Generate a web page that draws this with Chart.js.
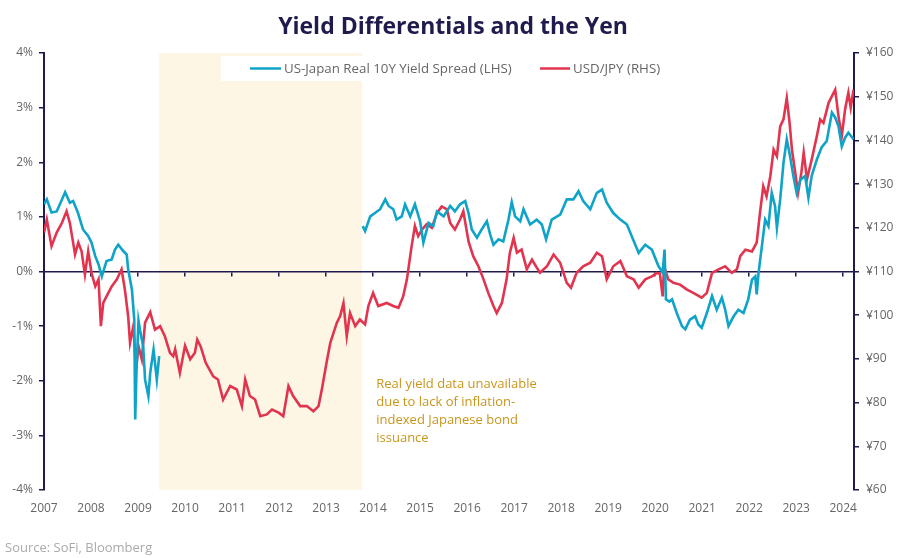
<!DOCTYPE html>
<html>
<head>
<meta charset="utf-8">
<script src="https://cdn.jsdelivr.net/npm/chart.js@4.4.1/dist/chart.umd.min.js"></script>
<style>
  html, body { margin: 0; padding: 0; background: #ffffff; }
  #wrap { position: relative; width: 906px; height: 558px; }
</style>
</head>
<body>
<div id="wrap"><canvas id="chart" width="906" height="558"></canvas></div>
<script>
const yearTicks = [2007, 2008, 2009, 2010, 2011, 2012, 2013, 2014, 2015, 2016, 2017, 2018, 2019, 2020, 2021, 2022, 2023, 2024];
const pctTicks = [-4, -3, -2, -1, 0, 1, 2, 3, 4];
const yenTicks = [60, 70, 80, 90, 100, 110, 120, 130, 140, 150, 160];

// US-Japan real 10Y spread (%), null = no data
const spreadDates = [
  2007.00, 2007.06, 2007.16, 2007.27, 2007.45, 2007.55, 2007.62, 2007.72, 2007.83, 2007.94,
  2008.01, 2008.09, 2008.16, 2008.23, 2008.33, 2008.44, 2008.51, 2008.58, 2008.69, 2008.76,
  2008.79, 2008.87, 2008.92, 2008.94, 2008.97, 2009.01, 2009.04, 2009.11, 2009.15, 2009.22,
  2009.26, 2009.33, 2009.40, 2009.45,
  2011.50,
  2013.78, 2013.83, 2013.94, 2014.04, 2014.15, 2014.26, 2014.33, 2014.43, 2014.50, 2014.61,
  2014.68, 2014.79, 2014.89, 2015.00, 2015.07, 2015.18, 2015.28, 2015.36, 2015.50, 2015.64,
  2015.74, 2015.85, 2015.96, 2016.03, 2016.10, 2016.21, 2016.31, 2016.42, 2016.49, 2016.56,
  2016.67, 2016.77, 2016.88, 2016.95, 2017.02, 2017.13, 2017.20, 2017.34, 2017.48, 2017.59,
  2017.68, 2017.80, 2017.98, 2018.12, 2018.26, 2018.37, 2018.47, 2018.62, 2018.76, 2018.87,
  2018.97, 2019.11, 2019.26, 2019.40, 2019.50, 2019.65, 2019.79, 2019.93, 2020.07, 2020.16,
  2020.20, 2020.23, 2020.30, 2020.36, 2020.46, 2020.57, 2020.64, 2020.74, 2020.85, 2020.92,
  2020.99, 2021.10, 2021.21, 2021.31, 2021.42, 2021.49, 2021.56, 2021.67, 2021.77, 2021.88,
  2021.98, 2022.06, 2022.13, 2022.16, 2022.20, 2022.27, 2022.34, 2022.41, 2022.48, 2022.55,
  2022.59, 2022.66, 2022.73, 2022.80, 2022.87, 2022.94, 2023.01, 2023.09, 2023.19, 2023.26,
  2023.33, 2023.44, 2023.54, 2023.65, 2023.76, 2023.83, 2023.90, 2023.97, 2024.04, 2024.11,
  2024.22
];
const spreadValues = [
  1.23, 1.32, 1.08, 1.10, 1.45, 1.26, 1.29, 1.08, 0.77, 0.65,
  0.53, 0.28, 0.13, -0.09, 0.19, 0.22, 0.40, 0.49, 0.37, 0.31,
  0.04, -0.33, -0.88, -2.71, -1.73, -0.90, -1.06, -1.37, -1.98, -2.28,
  -1.85, -1.43, -1.98, -1.55,
  null,
  0.83, 0.74, 1.01, 1.07, 1.14, 1.32, 1.20, 1.14, 0.95, 1.01,
  1.23, 1.01, 1.23, 0.92, 0.53, 0.89, 0.83, 1.10, 1.01, 1.20,
  1.10, 1.23, 1.29, 1.07, 0.77, 0.62, 0.77, 0.92, 0.68, 0.49,
  0.59, 0.55, 0.95, 1.27, 1.01, 0.92, 1.14, 0.86, 0.95, 0.86,
  0.59, 0.95, 1.04, 1.32, 1.32, 1.47, 1.29, 1.14, 1.44, 1.50,
  1.26, 1.07, 0.95, 0.86, 0.65, 0.34, 0.49, 0.40, 0.10, -0.02,
  0.40, -0.51, -0.55, -0.51, -0.76, -1.00, -1.06, -0.88, -0.82, -0.97,
  -1.03, -0.76, -0.45, -0.70, -0.48, -0.70, -1.00, -0.82, -0.70, -0.76,
  -0.51, -0.15, -0.09, -0.42, -0.02, 0.46, 0.95, 0.83, 1.44, 1.20,
  0.80, 1.32, 1.99, 2.42, 2.11, 1.75, 1.44, 1.68, 1.75, 1.35,
  1.75, 2.05, 2.27, 2.39, 2.91, 2.82, 2.66, 2.29, 2.45, 2.54,
  2.42
];

// USD/JPY (yen per dollar)
const fxDates = [
  2007.00, 2007.06, 2007.16, 2007.27, 2007.38, 2007.48, 2007.55, 2007.62, 2007.66, 2007.73,
  2007.80, 2007.87, 2007.94, 2008.01, 2008.09, 2008.16, 2008.21, 2008.26, 2008.33, 2008.44,
  2008.55, 2008.65, 2008.72, 2008.79, 2008.83, 2008.90, 2008.96, 2009.01, 2009.08, 2009.15,
  2009.26, 2009.36, 2009.47, 2009.57, 2009.68, 2009.75, 2009.79, 2009.89, 2010.00, 2010.11,
  2010.21, 2010.26, 2010.33, 2010.44, 2010.60, 2010.70, 2010.81, 2010.96, 2011.10, 2011.21,
  2011.28, 2011.38, 2011.49, 2011.60, 2011.74, 2011.85, 2011.99, 2012.09, 2012.20, 2012.30,
  2012.45, 2012.59, 2012.73, 2012.84, 2012.91, 2013.01, 2013.09, 2013.16, 2013.23, 2013.30,
  2013.37, 2013.44, 2013.51, 2013.62, 2013.72, 2013.83, 2013.90, 2014.00, 2014.11, 2014.29,
  2014.43, 2014.54, 2014.64, 2014.72, 2014.82, 2014.89, 2014.96, 2015.04, 2015.14, 2015.25,
  2015.36, 2015.46, 2015.57, 2015.64, 2015.74, 2015.85, 2015.92, 2016.03, 2016.13, 2016.24,
  2016.35, 2016.45, 2016.56, 2016.63, 2016.74, 2016.84, 2016.91, 2016.99, 2017.06, 2017.16,
  2017.27, 2017.38, 2017.55, 2017.70, 2017.84, 2017.98, 2018.12, 2018.21, 2018.33, 2018.47,
  2018.62, 2018.76, 2018.87, 2018.97, 2019.11, 2019.26, 2019.40, 2019.54, 2019.65, 2019.79,
  2019.93, 2020.04, 2020.10, 2020.16, 2020.19, 2020.28, 2020.39, 2020.53, 2020.67, 2020.81,
  2020.99, 2021.10, 2021.21, 2021.35, 2021.49, 2021.63, 2021.74, 2021.81, 2021.92, 2022.06,
  2022.16, 2022.23, 2022.30, 2022.37, 2022.45, 2022.52, 2022.59, 2022.66, 2022.73, 2022.80,
  2022.86, 2022.91, 2022.98, 2023.04, 2023.11, 2023.16, 2023.23, 2023.33, 2023.44, 2023.51,
  2023.58, 2023.69, 2023.83, 2023.90, 2023.97, 2024.04, 2024.11, 2024.16, 2024.22
];
const fxValues = [
  118.9, 121.9, 115.8, 118.9, 121.1, 123.8, 121.1, 116.6, 113.9, 116.6,
  114.6, 109.3, 114.6, 109.7, 106.6, 108.2, 97.5, 102.8, 104.3, 106.6,
  108.2, 110.5, 105.9, 99.8, 93.7, 97.5, 87.6, 92.9, 89.9, 98.3,
  100.7, 96.7, 97.5, 95.2, 91.4, 90.6, 92.2, 86.8, 93.0, 89.9,
  91.4, 94.4, 92.9, 89.1, 86.0, 85.3, 80.7, 83.8, 83.0, 79.2,
  85.3, 81.5, 80.7, 76.9, 77.3, 78.4, 77.7, 76.9, 83.8, 81.5,
  79.2, 79.2, 78.0, 79.2, 83.0, 89.1, 93.7, 96.0, 98.3, 99.8,
  102.8, 95.2, 100.5, 97.5, 99.0, 97.9, 102.1, 105.1, 102.1, 102.8,
  102.1, 101.7, 104.3, 108.2, 115.8, 120.4, 118.1, 119.6, 120.8, 120.0,
  123.4, 124.9, 124.2, 121.1, 119.6, 121.9, 123.8, 116.9, 113.5, 111.2,
  108.2, 105.1, 102.1, 100.5, 102.8, 108.2, 114.3, 117.7, 114.3, 115.0,
  110.5, 112.7, 109.7, 111.2, 113.9, 112.0, 107.4, 106.3, 109.7, 111.2,
  112.0, 114.3, 113.5, 108.2, 111.2, 112.4, 108.9, 108.2, 106.3, 108.2,
  108.9, 109.7, 109.5, 104.3, 111.2, 108.2, 107.4, 107.0, 105.9, 105.1,
  104.0, 105.1, 109.7, 110.5, 111.2, 109.7, 110.5, 113.5, 115.0, 114.6,
  116.6, 123.4, 129.5, 127.2, 131.8, 137.9, 136.4, 143.2, 144.8, 149.7,
  144.0, 137.9, 132.6, 128.0, 132.6, 137.2, 131.1, 135.6, 141.0, 144.8,
  144.0, 148.6, 151.6, 145.5, 141.0, 147.1, 150.9, 147.5, 151.6
];

const shadeStart = 2009.45;
const shadeEnd = 2013.77;
const noteLines = ["Real yield data unavailable", "due to lack of inflation-", "indexed Japanese bond", "issuance"];

const navy = "#1f1b4d";
const blue = "#0fa3c7";
const red = "#e1344f";
const grey = "#666666";
const fontFamily = "'Open Sans', 'DejaVu Sans', sans-serif";

const decor = {
  id: "decor",
  beforeDraw(chart) {
    const { ctx, chartArea, scales } = chart;
    const x0 = scales.x.getPixelForValue(shadeStart);
    const x1 = scales.x.getPixelForValue(shadeEnd);
    ctx.save();
    ctx.fillStyle = "#fef6e4";
    ctx.fillRect(x0, chartArea.top, x1 - x0, chartArea.bottom - chartArea.top);
    ctx.restore();
  },
  afterDraw(chart) {
    const { ctx, scales } = chart;
    ctx.save();

    // title
    ctx.fillStyle = navy;
    ctx.font = "bold 23px " + fontFamily;
    ctx.textAlign = "center";
    ctx.textBaseline = "middle";
    ctx.fillText("Yield Differentials and the Yen", 453, 27);

    // legend
    ctx.fillStyle = "#ffffff";
    ctx.fillRect(221, 56, 460, 25);
    ctx.lineWidth = 2.5;
    ctx.strokeStyle = blue;
    ctx.beginPath(); ctx.moveTo(250, 68.5); ctx.lineTo(281, 68.5); ctx.stroke();
    ctx.strokeStyle = red;
    ctx.beginPath(); ctx.moveTo(540, 68.5); ctx.lineTo(570, 68.5); ctx.stroke();
    ctx.fillStyle = grey;
    ctx.font = "13.3px " + fontFamily;
    ctx.textAlign = "left";
    ctx.fillText("US-Japan Real 10Y Yield Spread (LHS)", 284, 69);
    ctx.fillText("USD/JPY (RHS)", 573, 69);

    // note
    ctx.fillStyle = "#c9961c";
    ctx.font = "13px " + fontFamily;
    const nx = scales.x.getPixelForValue(shadeEnd) + 14;
    noteLines.forEach((t, i) => ctx.fillText(t, nx, 384 + i * 18));

    // source
    ctx.fillStyle = "#aaaaaa";
    ctx.font = "13px " + fontFamily;
    ctx.fillText("Source: SoFi, Bloomberg", 5, 548);
    ctx.restore();
  },
};

const ctx = document.getElementById("chart").getContext("2d");

const chart = new Chart(ctx, {
  type: "line",
  data: {
    datasets: [
      {
        label: "US-Japan Real 10Y Yield Spread (LHS)",
        data: spreadDates.map((d, i) => ({ x: d, y: spreadValues[i] })),
        borderColor: blue,
        borderWidth: 2.6,
        pointRadius: 0,
        spanGaps: false,
        yAxisID: "y",
        xAxisID: "x",
      },
      {
        label: "USD/JPY (RHS)",
        data: fxDates.map((d, i) => ({ x: d, y: fxValues[i] })),
        borderColor: red,
        borderWidth: 2.6,
        pointRadius: 0,
        yAxisID: "y1",
        xAxisID: "x",
      },
    ],
  },
  options: {
    responsive: false,
    animation: false,
    layout: { padding: { top: 53, left: 0, right: 0, bottom: 0 } },
    plugins: {
      legend: { display: false },
      tooltip: { enabled: false },
    },
    scales: {
      x: {
        type: "linear",
        position: "bottom",
        min: 2007,
        max: 2024.23,
        afterBuildTicks: (s) => { s.ticks = yearTicks.map((v) => ({ value: v })); },
        afterFit: (s) => { s.height = 68; },
        grid: { display: false, drawTicks: false },
        border: { display: false },
        ticks: {
          color: grey,
          font: { family: fontFamily, size: 12 },
          padding: 11,
          maxRotation: 0,
          autoSkip: false,
          callback: (v) => String(v),
        },
      },
      x2: {
        type: "linear",
        position: { y: 0 },
        min: 2007,
        max: 2024.23,
        afterBuildTicks: (s) => { s.ticks = yearTicks.map((v) => ({ value: v })); },
        grid: { drawOnChartArea: false, drawTicks: true, tickLength: 4, color: navy, lineWidth: 1.5 },
        border: { display: true, color: navy, width: 1.5 },
        ticks: { display: false },
      },
      y: {
        type: "linear",
        position: "left",
        min: -4,
        max: 4,
        afterBuildTicks: (s) => { s.ticks = pctTicks.map((v) => ({ value: v })); },
        afterFit: (s) => { s.width = 44; },
        grid: { drawOnChartArea: false, drawTicks: true, tickLength: 5, color: navy, lineWidth: 1.5 },
        border: { display: true, color: navy, width: 2 },
        ticks: {
          color: grey,
          font: { family: fontFamily, size: 12 },
          padding: 6,
          callback: (v) => v + "%",
        },
      },
      y1: {
        type: "linear",
        position: "right",
        min: 60,
        max: 160,
        afterBuildTicks: (s) => { s.ticks = yenTicks.map((v) => ({ value: v })); },
        afterFit: (s) => { s.width = 52; },
        grid: { drawOnChartArea: false, drawTicks: true, tickLength: 5, color: navy, lineWidth: 1.5 },
        border: { display: true, color: navy, width: 2 },
        ticks: {
          color: grey,
          font: { family: fontFamily, size: 12 },
          padding: 7,
          callback: (v) => "¥" + v,
        },
      },
    },
  },
  plugins: [decor],
});
</script>
</body>
</html>
